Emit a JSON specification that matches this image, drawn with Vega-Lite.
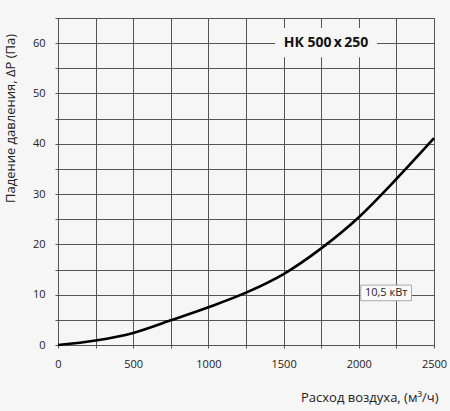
{
  "$schema": "https://vega.github.io/schema/vega-lite/v6.json",
  "width": 376,
  "height": 327,
  "autosize": {"type": "none"},
  "padding": {"left": 58, "top": 18, "right": 16, "bottom": 66},
  "background": "#f6f6f6",
  "data": {
    "values": [
      {"flow": 0, "dp": 0},
      {"flow": 250, "dp": 0.9},
      {"flow": 500, "dp": 2.4},
      {"flow": 750, "dp": 4.9},
      {"flow": 1000, "dp": 7.5},
      {"flow": 1250, "dp": 10.4},
      {"flow": 1500, "dp": 14.1},
      {"flow": 1750, "dp": 19.2},
      {"flow": 2000, "dp": 25.4},
      {"flow": 2250, "dp": 33.0},
      {"flow": 2500, "dp": 41.1}
    ]
  },
  "layer": [
    {
      "mark": {"type": "line", "color": "black", "strokeWidth": 2.6, "interpolate": "monotone"},
      "encoding": {
        "x": {
          "field": "flow",
          "type": "quantitative",
          "scale": {"domain": [0, 2500], "nice": false},
          "axis": {
            "values": [0, 250, 500, 750, 1000, 1250, 1500, 1750, 2000, 2250, 2500],
            "labelExpr": "datum.value % 500 == 0 ? datum.label : ''",
            "format": "d",
            "labelFlush": false,
            "title": "Расход воздуха, (м³/ч)",
            "titleAnchor": "end",
            "titleAlign": "right",
            "titleX": 380,
            "titleY": 52,
            "titleBaseline": "middle",
            "labelPadding": 10
          }
        },
        "y": {
          "field": "dp",
          "type": "quantitative",
          "scale": {"domain": [0, 65], "nice": false},
          "axis": {
            "values": [0, 5, 10, 15, 20, 25, 30, 35, 40, 45, 50, 55, 60, 65],
            "labelExpr": "datum.value % 10 == 0 ? datum.label : ''",
            "title": "Падение давления, ΔP (Па)",
            "titleX": -48,
            "titleY": 100,
            "titleAlign": "center",
            "titleBaseline": "middle",
            "labelPadding": 10
          }
        }
      }
    },
    {
      "data": {"values": [{}]},
      "mark": {"type": "rect", "fill": "#f6f6f6"},
      "encoding": {
        "x": {"datum": 1443, "type": "quantitative", "axis": {"values": [0, 250, 500, 750, 1000, 1250, 1500, 1750, 2000, 2250, 2500], "labelExpr": "datum.value % 500 == 0 ? datum.label : ''", "format": "d", "labelFlush": false, "title": "Расход воздуха, (м³/ч)", "titleAnchor": "end", "titleAlign": "right", "titleX": 380, "titleY": 52, "titleBaseline": "middle", "labelPadding": 10}},
        "x2": {"datum": 2121},
        "y": {"datum": 57.2, "type": "quantitative", "axis": {"values": [0, 5, 10, 15, 20, 25, 30, 35, 40, 45, 50, 55, 60, 65], "labelExpr": "datum.value % 10 == 0 ? datum.label : ''", "title": "Падение давления, ΔP (Па)", "titleX": -48, "titleY": 100, "titleAlign": "center", "titleBaseline": "middle", "labelPadding": 10}},
        "y2": {"datum": 63}
      }
    },
    {
      "data": {"values": [{}]},
      "mark": {"type": "text", "fontWeight": "bold", "fontSize": 14, "font": "Open Sans", "color": "#111", "align": "center", "baseline": "middle"},
      "encoding": {
        "x": {"datum": 1782, "type": "quantitative", "axis": {"values": [0, 250, 500, 750, 1000, 1250, 1500, 1750, 2000, 2250, 2500], "labelExpr": "datum.value % 500 == 0 ? datum.label : ''", "format": "d", "labelFlush": false, "title": "Расход воздуха, (м³/ч)", "titleAnchor": "end", "titleAlign": "right", "titleX": 380, "titleY": 52, "titleBaseline": "middle", "labelPadding": 10}},
        "y": {"datum": 60, "type": "quantitative", "axis": {"values": [0, 5, 10, 15, 20, 25, 30, 35, 40, 45, 50, 55, 60, 65], "labelExpr": "datum.value % 10 == 0 ? datum.label : ''", "title": "Падение давления, ΔP (Па)", "titleX": -48, "titleY": 100, "titleAlign": "center", "titleBaseline": "middle", "labelPadding": 10}},
        "text": {"value": "НК 500\u2009x\u2009250"}
      }
    },
    {
      "data": {"values": [{}]},
      "mark": {"type": "rect", "fill": "#fafafa", "stroke": "#aaaaaa", "strokeWidth": 1},
      "encoding": {
        "x": {"datum": 2013, "type": "quantitative", "axis": {"values": [0, 250, 500, 750, 1000, 1250, 1500, 1750, 2000, 2250, 2500], "labelExpr": "datum.value % 500 == 0 ? datum.label : ''", "format": "d", "labelFlush": false, "title": "Расход воздуха, (м³/ч)", "titleAnchor": "end", "titleAlign": "right", "titleX": 380, "titleY": 52, "titleBaseline": "middle", "labelPadding": 10}},
        "x2": {"datum": 2350},
        "y": {"datum": 8.8, "type": "quantitative", "axis": {"values": [0, 5, 10, 15, 20, 25, 30, 35, 40, 45, 50, 55, 60, 65], "labelExpr": "datum.value % 10 == 0 ? datum.label : ''", "title": "Падение давления, ΔP (Па)", "titleX": -48, "titleY": 100, "titleAlign": "center", "titleBaseline": "middle", "labelPadding": 10}},
        "y2": {"datum": 11.9}
      }
    },
    {
      "data": {"values": [{}]},
      "mark": {"type": "text", "fontSize": 11, "font": "Open Sans", "color": "#222", "align": "center", "baseline": "middle"},
      "encoding": {
        "x": {"datum": 2182, "type": "quantitative", "axis": {"values": [0, 250, 500, 750, 1000, 1250, 1500, 1750, 2000, 2250, 2500], "labelExpr": "datum.value % 500 == 0 ? datum.label : ''", "format": "d", "labelFlush": false, "title": "Расход воздуха, (м³/ч)", "titleAnchor": "end", "titleAlign": "right", "titleX": 380, "titleY": 52, "titleBaseline": "middle", "labelPadding": 10}},
        "y": {"datum": 10.35, "type": "quantitative", "axis": {"values": [0, 5, 10, 15, 20, 25, 30, 35, 40, 45, 50, 55, 60, 65], "labelExpr": "datum.value % 10 == 0 ? datum.label : ''", "title": "Падение давления, ΔP (Па)", "titleX": -48, "titleY": 100, "titleAlign": "center", "titleBaseline": "middle", "labelPadding": 10}},
        "text": {"value": "10,5 кВт"}
      }
    }
  ],
  "config": {
    "font": "Open Sans",
    "view": {"stroke": "#555555", "strokeWidth": 1},
    "axis": {
      "grid": true,
      "gridColor": "#555555",
      "gridOpacity": 1,
      "gridWidth": 1,
      "domainColor": "#555555",
      "tickColor": "#555555",
      "tickSize": 3,
      "labelFont": "Open Sans",
      "labelFontSize": 11,
      "labelColor": "#222222",
      "titleFont": "Open Sans",
      "titleFontSize": 13,
      "titleFontWeight": "normal",
      "titleColor": "#222222"
    }
  }
}
